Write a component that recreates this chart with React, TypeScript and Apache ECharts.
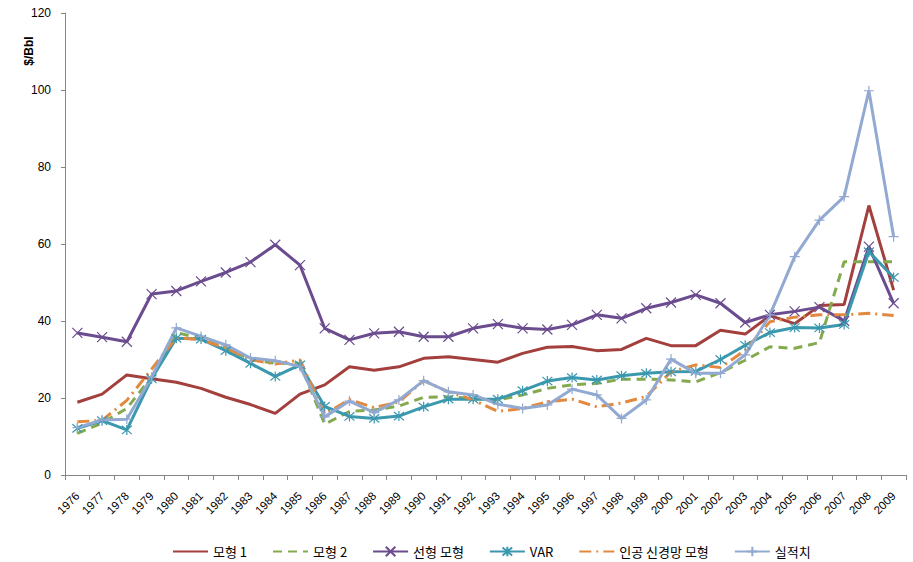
import React, { useEffect, useRef } from "react";
import * as echarts from "echarts";

const years = [
  "1976","1977","1978","1979","1980","1981","1982","1983","1984","1985",
  "1986","1987","1988","1989","1990","1991","1992","1993","1994","1995",
  "1996","1997","1998","1999","2000","2001","2002","2003","2004","2005",
  "2006","2007","2008","2009",
];

const model1 = [
  18.9, 21, 26, 25, 24.1, 22.5, 20.2, 18.3, 16, 21,
  23.4, 28.1, 27.2, 28.1, 30.3, 30.7, 30, 29.3, 31.6, 33.2,
  33.4, 32.3, 32.6, 35.5, 33.6, 33.6, 37.6, 36.6, 41.4, 39.3,
  44, 44.3, 70, 48,
];

const model2 = [
  10.8, 13.5, 17.3, 25.5, 37, 35.5, 33, 30, 29, 29,
  13.2, 16.5, 16.9, 17.9, 20.2, 20.3, 19.9, 19.5, 20.8, 22.5,
  23.4, 23.8, 24.9, 24.9, 24.7, 24.2, 26.6, 29.8, 33.3, 32.9,
  34.4, 55.4, 55.4, 55.4,
];

const linearModel = [
  36.9, 35.8, 34.6, 47, 47.8, 50.3, 52.6, 55.3, 59.8, 54.5,
  38.1, 35.1, 36.8, 37.2, 35.9, 35.9, 38.1, 39.2, 38.1, 37.8,
  39, 41.6, 40.7, 43.3, 44.8, 46.8, 44.6, 39.6, 41.6, 42.5,
  43.6, 40, 59.3, 44.6,
];

const varModel = [
  12.1, 14.1, 11.7, 25, 35.5, 35.3, 32.3, 29, 25.6, 28.6,
  17.8, 15.2, 14.7, 15.3, 17.7, 19.7, 19.7, 19.7, 21.9, 24.4,
  25.3, 24.7, 25.8, 26.4, 26.8, 26.9, 30, 33.7, 37, 38.3,
  38.2, 39.1, 58, 51.3,
];

const annModel = [
  13.8, 14.2, 19.4, 27.5, 35.7, 35.1, 33, 30, 28.8, 29.9,
  15.8, 19.6, 17.5, 19, 24.5, 21.6, 19.5, 16.5, 17.3, 19,
  19.7, 17.7, 18.7, 20.4, 26.8, 28.6, 27.9, 32.4, 39.8, 41,
  41.6, 41.6, 42, 41.4,
];

const actual = [
  12.3, 14.3, 14.5, 25.4, 38.2, 36, 33.8, 30.4, 29.7, 28.2,
  15.1, 19.2, 16.2, 19.5, 24.5, 21.6, 20.8, 18.4, 17.3, 18.2,
  22.3, 20.8, 14.7, 19.5, 30.1, 26.4, 26.4, 31.2, 41.6, 56.7,
  66.2, 72.3, 99.8, 61.9,
];

const seriesNames = ["모형 1", "모형 2", "선형 모형", "VAR", "인공 신경망 모형", "실적치"];
const yTicks = [0, 20, 40, 60, 80, 100, 120];

const C_RED = "#A33F3D";
const C_GREEN = "#84AA4E";
const C_PURPLE = "#6B4C8F";
const C_TEAL = "#3A98AF";
const C_ORANGE = "#E3893F";
const C_LBLUE = "#92A9D2";

const SYM_X = "path://M0,0L10,10M10,0L0,10";
const SYM_STAR = "path://M0,0L10,10M10,0L0,10M5,-1L5,11";
const SYM_PLUS = "path://M5,0L5,10M0,5L10,5";

export default function App() {
  const ref = useRef<HTMLDivElement>(null);

  useEffect(() => {
    if (!ref.current) return;
    const chart = echarts.init(ref.current, undefined, { renderer: "svg" });

    const lineSeries = (
      name: string,
      data: number[],
      color: string,
      lineType: any,
      symbol: string | null
    ) => ({
      name,
      type: "line",
      data,
      showSymbol: !!symbol,
      symbol: symbol || "none",
      symbolSize: 10,
      itemStyle: { color, borderColor: color, borderWidth: 1.2 },
      lineStyle: { color, width: 3, type: lineType, cap: "butt" },
      emphasis: { disabled: true },
    });

    const legendData = [
      { name: seriesNames[0], itemStyle: { opacity: 0 } },
      { name: seriesNames[1], itemStyle: { opacity: 0 } },
      { name: seriesNames[2] },
      { name: seriesNames[3] },
      { name: seriesNames[4], itemStyle: { opacity: 0 } },
      { name: seriesNames[5] },
    ];

    chart.setOption({
      animation: false,
      backgroundColor: "#ffffff",
      textStyle: { fontFamily: "'Liberation Sans', 'Noto Sans CJK KR', sans-serif" },
      grid: { left: 65, right: 7, top: 13, bottom: 87, containLabel: false },
      xAxis: {
        type: "category",
        data: years,
        boundaryGap: true,
        axisLine: { lineStyle: { color: "#868686", width: 1 } },
        axisTick: { show: true, length: 5, lineStyle: { color: "#868686" } },
        axisLabel: {
          rotate: 45,
          interval: 0,
          margin: 19,
          fontSize: 11.5,
          color: "#000",
          fontFamily: "'Liberation Sans', sans-serif",
        },
        splitLine: { show: false },
      },
      yAxis: {
        type: "value",
        min: yTicks[0],
        max: yTicks[yTicks.length - 1],
        interval: 20,
        axisLine: { show: true, lineStyle: { color: "#868686", width: 1 } },
        axisTick: { show: true, length: 4, lineStyle: { color: "#868686" } },
        axisLabel: {
          fontSize: 12,
          color: "#000",
          margin: 14,
          fontFamily: "'Liberation Sans', sans-serif",
        },
        splitLine: { show: false },
      },
      legend: {
        left: 167,
        top: 540,
        itemWidth: 35,
        itemHeight: 12,
        itemGap: 25,
        textStyle: {
          fontSize: 13,
          color: "#000",
          fontFamily: "'Noto Sans CJK KR', sans-serif",
        },
        data: legendData,
      },
      graphic: [
        {
          type: "text",
          x: 29,
          y: 51,
          rotation: Math.PI / 2,
          style: {
            text: "$/Bbl",
            fontSize: 12,
            fontWeight: "bold",
            fill: "#000",
            align: "center",
            verticalAlign: "middle",
            fontFamily: "'Liberation Sans', sans-serif",
          },
        },
      ],
      series: [
        lineSeries(seriesNames[0], model1, C_RED, "solid", null),
        lineSeries(seriesNames[1], model2, C_GREEN, [9, 6], null),
        lineSeries(seriesNames[2], linearModel, C_PURPLE, "solid", SYM_X),
        lineSeries(seriesNames[3], varModel, C_TEAL, "solid", SYM_STAR),
        lineSeries(seriesNames[4], annModel, C_ORANGE, [12, 5, 2, 5], null),
        lineSeries(seriesNames[5], actual, C_LBLUE, "solid", SYM_PLUS),
      ],
    });

    return () => chart.dispose();
  }, []);

  return (
    <div
      ref={ref}
      style={{ position: "fixed", left: 0, top: 0, width: 913, height: 562, background: "#fff" }}
    />
  );
}
